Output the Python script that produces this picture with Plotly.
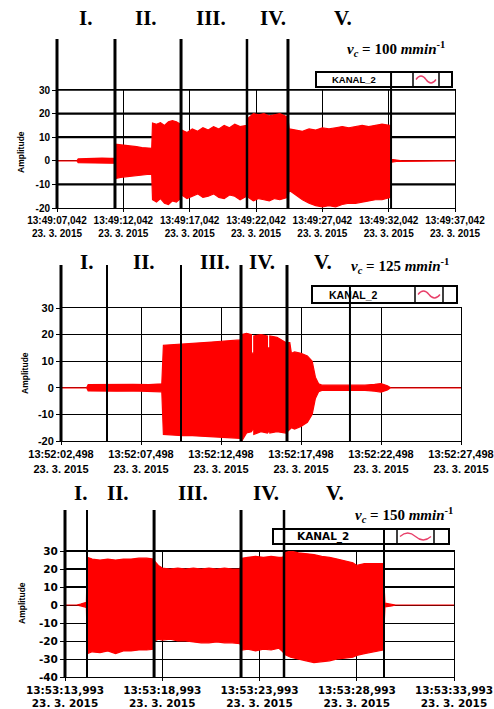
import plotly.graph_objects as go

W, H = 494, 709

# ---------------- DATA ----------------
# Panel 1 (v_c = 100): time in seconds from 13:49:07,042 ; envelope of the signal
T1 = [0.0, 1.5, 1.6, 2.2, 2.8, 3.4, 4.0, 4.35,
      4.4, 4.8, 5.2, 5.6, 6.0, 6.4, 6.8, 7.14,
      7.2, 7.5, 7.8, 8.1, 8.4, 8.7, 9.0, 9.3,
      9.4, 9.8, 10.2, 10.6, 11.0, 11.4, 11.8, 12.2, 12.6, 13.0, 13.4, 13.8, 14.3,
      14.4, 14.8, 15.2, 15.6, 16.0, 16.4, 16.8, 17.4,
      17.5, 18.0, 18.5, 19.0, 19.5, 20.0, 20.5, 21.0, 21.5, 22.0, 22.5, 23.0, 23.5, 24.0, 24.5, 25.15,
      25.2, 25.6, 26.0, 30.0]
U1 = [0, 0, 0.8, 1.0, 0.9, 1.1, 1.0, 1.0,
      7.0, 6.8, 6.5, 6.2, 6.0, 5.6, 5.4, 5.3,
      16.0, 15.5, 16.2, 15.0, 16.5, 17.0, 16.5, 15.5,
      13.0, 12.0, 13.5, 12.5, 14.0, 13.0, 14.5, 13.5, 15.0, 14.0, 15.5, 14.5, 15.0,
      18.0, 20.0, 19.5, 20.0, 19.0, 19.5, 20.0, 18.5,
      13.5, 13.0, 12.5, 13.5, 13.0, 14.0, 13.5, 14.0, 14.5, 14.0, 14.5, 15.0, 14.5, 15.0, 15.5, 15.0,
      0.6, 0.3, 0, 0]
L1 = [0, 0, -0.8, -1.0, -1.1, -0.9, -1.0, -1.0,
      -7.5, -7.0, -6.8, -6.5, -6.2, -6.0, -5.8, -5.7,
      -16.5, -17.5, -16.0, -18.0, -18.5, -17.0, -17.5, -16.0,
      -14.5, -16.0, -15.0, -14.0, -15.5, -15.0, -14.0, -15.5, -16.0, -14.5, -15.0, -16.5, -15.0,
      -15.5, -17.0, -16.0, -16.5, -17.0, -16.0, -16.5, -15.5,
      -12.5, -14.5, -16.5, -18.0, -19.0, -19.5, -19.0, -19.5, -18.5, -18.0, -18.0, -17.5, -17.0, -16.5, -16.5, -15.5,
      -0.6, -0.3, 0, 0]
PHASES1 = [4.37, 9.35, 14.32, 17.41]
END1 = 25.18
XTICK1 = ["13:49:07,042", "13:49:12,042", "13:49:17,042", "13:49:22,042",
          "13:49:27,042", "13:49:32,042", "13:49:37,042"]

# Panel 2 (v_c = 125): seconds from 13:52:02,498
T2 = [0.0, 1.6, 1.7, 2.5, 3.5, 4.5, 5.5, 6.3,
      6.4, 7.0, 7.6, 8.2, 8.8, 9.4, 10.0, 10.6, 11.2,
      11.3, 11.6, 11.9, 11.9, 12.05, 12.05, 12.5, 12.9, 12.9, 13.05, 13.05, 13.5, 14.05,
      14.3, 14.4, 14.6, 15.0, 15.4, 15.7, 15.9, 16.1,
      16.3, 17.0, 18.0, 19.0, 19.6, 20.0, 20.4, 20.6, 25.0]
U2 = [0, 0, 1.2, 1.3, 1.2, 1.3, 1.2, 1.5,
      16.0, 16.2, 16.5, 16.8, 17.0, 17.2, 17.5, 17.8, 18.0,
      20.0, 20.5, 20.0, 13.0, 13.0, 19.5, 20.0, 19.5, 15.0, 15.0, 19.5, 19.0, 17.0,
      17.0, 13.0, 13.5, 13.0, 12.0, 10.0, 4.0, 1.5,
      1.0, 1.0, 1.0, 1.0, 1.3, 1.6, 0.8, 0, 0]
L2 = [0, 0, -1.2, -1.3, -1.3, -1.2, -1.3, -1.5,
      -17.5, -17.8, -18.0, -18.0, -18.3, -18.5, -18.5, -18.8, -19.0,
      -20.0, -17.0, -16.5, -16.5, -15.0, -17.5, -16.5, -17.0, -17.0, -16.0, -17.0, -16.5, -17.0,
      -15.5, -15.0, -15.5, -14.5, -13.0, -10.0, -4.0, -1.5,
      -1.0, -1.0, -1.0, -1.0, -1.3, -1.6, -0.8, 0, 0]
PHASES2 = [2.875, 7.5, 11.25, 14.125]
END2 = 18.06
XTICK2 = ["13:52:02,498", "13:52:07,498", "13:52:12,498", "13:52:17,498",
          "13:52:22,498", "13:52:27,498"]

# Panel 3 (v_c = 150): seconds from 13:53:13,993
T3 = [0.0, 0.6, 0.8, 1.0, 1.1,
      1.15, 1.4, 1.8, 2.2, 2.6, 3.0, 3.4, 3.8, 4.2, 4.55,
      4.6, 4.8, 5.0, 5.4, 5.8, 6.2, 6.6, 7.0, 7.4, 7.8, 8.2, 8.6, 9.0,
      9.1, 9.4, 9.8, 10.2, 10.6, 11.0, 11.2,
      11.3, 11.6, 12.0, 12.4, 12.8, 13.2, 13.6, 14.0, 14.4, 14.8, 15.0, 15.4, 15.8, 16.35,
      16.45, 16.8, 17.0, 20.0]
U3 = [0, 0, 0.5, 1.0, 1.5,
      26.5, 25.5, 25.0, 25.5, 25.0, 25.5, 25.5, 26.0, 26.0, 25.5,
      24.5, 22.0, 20.5, 20.0, 20.5, 20.0, 20.5, 20.0, 20.5, 20.0, 20.5, 20.0, 20.0,
      26.0, 26.5, 27.0, 26.5, 27.0, 26.5, 26.5,
      29.0, 30.0, 29.0, 28.5, 28.0, 27.0, 26.5, 25.5, 24.5, 23.5, 22.0, 23.0, 23.0, 23.0,
      1.0, 0.5, 0, 0]
L3 = [0, 0, -0.5, -1.0, -1.5,
      -27.0, -26.0, -26.5, -25.5, -27.0, -25.5, -25.5, -25.0, -25.0, -24.5,
      -20.0, -19.0, -19.5, -19.0, -20.0, -20.0, -20.5, -21.0, -21.0, -20.5, -21.0, -21.0, -21.5,
      -25.0, -24.5, -25.5, -24.5, -25.0, -24.0, -26.0,
      -27.5, -29.0, -30.0, -31.0, -32.0, -31.5, -31.0, -30.0, -29.5, -29.0, -28.0, -27.0, -26.0, -25.0,
      -1.0, -0.5, 0, 0]
PHASES3 = [1.13, 4.58, 9.05, 11.26]
END3 = 16.4
XTICK3 = ["13:53:13,993", "13:53:18,993", "13:53:23,993", "13:53:28,993", "13:53:33,993"]

DATE = "23. 3. 2015"
PHASE_NAMES = ["I.", "II.", "III.", "IV.", "V."]
SPEEDS = [100, 125, 150]
CHANNEL = "KANAL_2"

# ---------------- LAYOUT helpers ----------------
def px(x):
    return x / W

def py(y):
    return 1 - y / H

panels = [
    dict(T=T1, U=U1, L=L1, phases=PHASES1, end=END1, xt=XTICK1, tmax=30, yr=[-20, 30],
         box=(57, 455, 90, 208), top=39, endtop=72, pw=[3, 3, 2.5, 3], ew=2,
         labels=[85, 146, 211, 273, 343], ly=18, vc=(396, 49),
         leg=(316, 452, 72, 87, [391, 413, 439]), sine=(413, 439),
         tfont=dict(family="Liberation Sans", size=10), yfont=dict(family="Liberation Sans", size=10),
         thick=[(30, 1.5), (20, 2.2), (10, 2.2), (-10, 2.2)], amp=(21, 152), lfont=9.5,
         lfam="Liberation Sans", ltext=354),
    dict(T=T2, U=U2, L=L2, phases=PHASES2, end=END2, xt=XTICK2, tmax=25, yr=[-20, 30],
         box=(61, 461, 308, 441), top=265, endtop=286, pw=[2, 2, 3, 3], ew=2,
         labels=[86, 144, 215, 262, 323], ly=262, vc=(400, 266),
         leg=(312, 457, 286, 303, [350, 415, 443]), sine=(415, 443),
         tfont=dict(family="Liberation Sans", size=11), yfont=dict(family="Liberation Sans", size=11),
         thick=[], amp=(25, 373), lfont=10.5, lfam="Liberation Sans", ltext=353),
    dict(T=T3, U=U3, L=L3, phases=PHASES3, end=END3, xt=XTICK3, tmax=20, yr=[-40, 30],
         box=(65, 454, 551, 677), top=510, endtop=529, pw=[2, 3, 3, 2.5], ew=2,
         labels=[80, 118, 193, 266, 335], ly=493, vc=(404, 515),
         leg=(273, 449, 529, 544, [384, 397, 434]), sine=(397, 434),
         tfont=dict(family="DejaVu Sans", size=10.5), yfont=dict(family="DejaVu Sans", size=10.5),
         thick=[(30, 2.2), (20, 2.2), (10, 2.2)], amp=(22, 603), lfont=10.5,
         lfam="DejaVu Sans", ltext=323),
]

fig = go.Figure()
shapes = []
annotations = []
layout = dict(template="none", width=W, height=H, autosize=False, margin=dict(l=0, r=0, t=0, b=0, pad=0),
              paper_bgcolor="white", plot_bgcolor="white", showlegend=False)

for i, p in enumerate(panels):
    n = "" if i == 0 else str(i + 1)
    xa, ya = "x" + n, "y" + n
    x0, x1, y0, y1 = p["box"]
    plot_h = y1 - y0

    fig.add_trace(go.Scatter(
        x=p["T"] + p["T"][::-1], y=p["U"] + p["L"][::-1],
        mode="lines", fill="toself", fillcolor="#ff0000",
        line=dict(color="#ff0000", width=1.2), xaxis=xa, yaxis=ya,
        hoverinfo="skip"))

    tickvals = [5 * k for k in range(len(p["xt"]))]
    layout["xaxis" + n] = dict(
        domain=[px(x0), px(x1)], range=[0, p["tmax"]], anchor=ya, automargin=False,
        tickvals=tickvals, ticktext=[f"{t}<br>{DATE}" for t in p["xt"]],
        showgrid=True, gridcolor="black", gridwidth=1, zeroline=False,
        showline=True, linecolor="black", linewidth=1, mirror=True,
        ticks="outside", ticklen=3, tickcolor="black", tickangle=0,
        tickfont=dict(color="black", weight="bold", **p["tfont"]))
    yt = list(range(p["yr"][0], p["yr"][1] + 1, 10))
    layout["yaxis" + n] = dict(
        domain=[py(y1), py(y0)], range=p["yr"], anchor=xa, automargin=False,
        tickvals=yt, ticktext=[str(v) for v in yt],
        showgrid=True, gridcolor="black", gridwidth=1, zeroline=False,
        showline=True, linecolor="black", linewidth=1, mirror=True,
        ticks="outside", ticklen=4, tickcolor="black",
        tickfont=dict(color="black", weight="bold", **p["yfont"]))

    # thicker horizontal grid lines
    for val, wd in p["thick"]:
        shapes.append(dict(type="line", xref=xa + " domain", yref=ya, x0=0, x1=1, y0=val, y1=val,
                           line=dict(color="black", width=wd), layer="below"))

    # left axis line extended upward
    ext = (y1 - p["top"]) / plot_h
    shapes.append(dict(type="line", xref=xa + " domain", yref=ya + " domain", x0=0, x1=0, y0=0, y1=ext,
                       line=dict(color="black", width=3)))
    # phase boundary lines
    for t, wd in zip(p["phases"], p["pw"]):
        shapes.append(dict(type="line", xref=xa, yref=ya + " domain", x0=t, x1=t, y0=0, y1=ext,
                           line=dict(color="black", width=wd)))
    ext2 = (y1 - p["endtop"]) / plot_h
    shapes.append(dict(type="line", xref=xa, yref=ya + " domain", x0=p["end"], x1=p["end"], y0=0, y1=ext2,
                       line=dict(color="black", width=p["ew"])))

    # legend box
    lx0, lx1, ly0, ly1, divs = p["leg"]
    shapes.append(dict(type="rect", xref="paper", yref="paper", x0=px(lx0), x1=px(lx1), y0=py(ly1), y1=py(ly0),
                       line=dict(color="black", width=2), fillcolor="rgba(0,0,0,0)"))
    for d in divs[1:]:
        shapes.append(dict(type="line", xref="paper", yref="paper", x0=px(d), x1=px(d), y0=py(ly1), y1=py(ly0),
                           line=dict(color="black", width=1.5)))
    sx0, sx1 = p["sine"]
    a = sx0 + 3
    b = sx1 - 3
    yc = (ly0 + ly1) / 2
    amp = 3.5
    qw = (b - a) / 4
    path = (f"M {px(a)},{py(yc)} Q {px(a + qw)},{py(yc - 2 * amp)} {px(a + 2 * qw)},{py(yc)} "
            f"Q {px(a + 3 * qw)},{py(yc + 2 * amp)} {px(b)},{py(yc)}")
    shapes.append(dict(type="path", xref="paper", yref="paper", path=path,
                       line=dict(color="#e8406a", width=1.3)))
    annotations.append(dict(xref="paper", yref="paper", x=px(p["ltext"]), y=py(yc), text=CHANNEL,
                            showarrow=False, xanchor="center", yanchor="middle",
                            font=dict(family=p["lfam"], size=p["lfont"], color="black", weight="bold")))

    # phase labels
    for name, lx in zip(PHASE_NAMES, p["labels"]):
        annotations.append(dict(xref="paper", yref="paper", x=px(lx), y=py(p["ly"]), text=name,
                                showarrow=False, xanchor="center", yanchor="middle",
                                font=dict(family="Liberation Serif", size=21, color="black", weight="bold")))
    # speed label
    vx, vy = p["vc"]
    annotations.append(dict(xref="paper", yref="paper", x=px(vx), y=py(vy),
                            text=f"<i>v<sub>c</sub></i> = {SPEEDS[i]} <i>mmin</i><sup>-1</sup>",
                            showarrow=False, xanchor="center", yanchor="middle",
                            font=dict(family="Liberation Serif", size=15, color="black", weight="bold")))
    # y title
    ax_, ay_ = p["amp"]
    annotations.append(dict(xref="paper", yref="paper", x=px(ax_), y=py(ay_), text="Amplitude",
                            textangle=-90, showarrow=False, xanchor="center", yanchor="middle",
                            font=dict(family="Liberation Sans", size=8.5,
                                      color="black", weight="bold")))

layout["shapes"] = shapes
layout["annotations"] = annotations
fig.update_layout(**layout)
fig.write_html("out.html")
